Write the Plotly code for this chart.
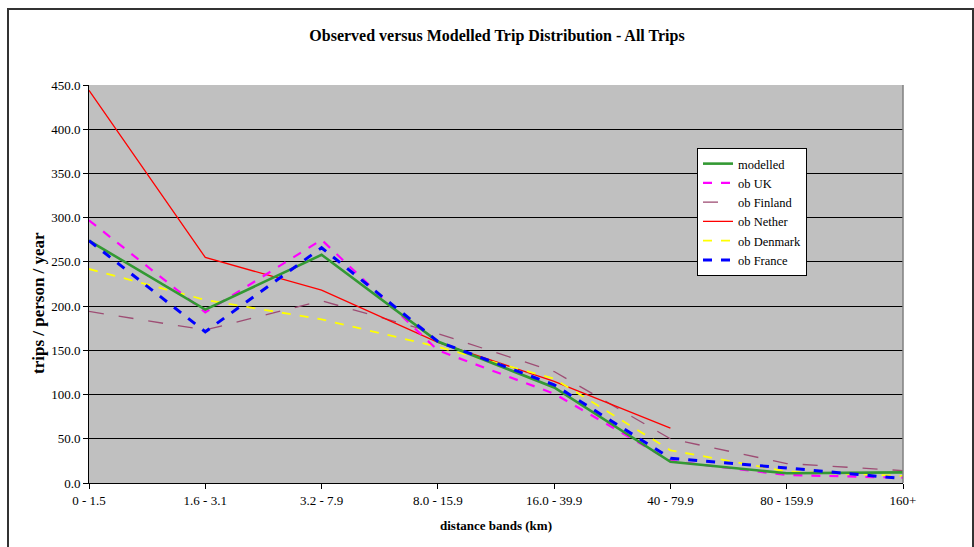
import plotly.graph_objects as go

categories = ["0 - 1.5", "1.6 - 3.1", "3.2 - 7.9", "8.0 - 15.9", "16.0 - 39.9",
              "40 - 79.9", "80 - 159.9", "160+"]
modelled = [274, 196, 258, 160, 108, 24, 11, 12]
ob_uk = [297, 193, 275, 150, 101, 25, 9, 6]
ob_finland = [194, 173, 206, 169, 126, 50, 22, 14]
ob_nether = [444, 255, 218, 159, 115, 62, None, None]
ob_denmark = [242, 207, 185, 154, 118, 37, 13, 8]
ob_france = [274, 171, 266, 160, 111, 28, 17, 5]
y_ticks = [0, 50, 100, 150, 200, 250, 300, 350, 400, 450]

FONT = "Liberation Serif, Times New Roman, serif"

series = [
    # name, data, color, width, dash, legendrank
    ("ob Finland", ob_finland, "#9E4D74", 1.3, "longdash", 3),
    ("ob Nether", ob_nether, "#FF0000", 1.3, "solid", 4),
    ("ob Denmark", ob_denmark, "#FFFF00", 1.8, "dash", 5),
    ("ob UK", ob_uk, "#FF00FF", 2.2, "dash", 2),
    ("modelled", modelled, "#339933", 2.6, "solid", 1),
    ("ob France", ob_france, "#0000FF", 3, "dash", 6),
]

fig = go.Figure()
for name, data, color, width, dash, rank in series:
    fig.add_trace(go.Scatter(
        x=categories, y=data, name=name, mode="lines",
        line=dict(color=color, width=width, dash=dash),
        legendrank=rank, connectgaps=False,
    ))

fig.update_layout(
    width=974, height=547,
    margin=dict(l=89, r=71, t=85, b=64),
    paper_bgcolor="white",
    plot_bgcolor="#C0C0C0",
    font=dict(family=FONT, size=13, color="black"),
    title=dict(text="<b>Observed versus Modelled Trip Distribution - All Trips</b>",
               x=497 / 974, xanchor="center", y=1 - 35 / 547, yanchor="middle",
               font=dict(family=FONT, size=16, color="black")),
    showlegend=True,
    legend=dict(x=(697 - 89) / 814, y=(483 - 148) / 398, xanchor="left", yanchor="top",
                bgcolor="white", bordercolor="black", borderwidth=1,
                font=dict(family=FONT, size=12.5, color="black"),
                tracegroupgap=0),
    xaxis=dict(
        type="category", range=[0, 7],
        showgrid=False, showline=True, linecolor="black", linewidth=1,
        mirror=False, ticks="outside", ticklen=5, tickcolor="black",
        tickfont=dict(family=FONT, size=13, color="black"),
        title=dict(text="<b>distance bands (km)</b>", standoff=14,
                   font=dict(family=FONT, size=13, color="black")),
        zeroline=False,
    ),
    yaxis=dict(
        range=[0, 450], tickvals=y_ticks, tickformat=".1f",
        showgrid=True, gridcolor="black", gridwidth=1,
        showline=True, linecolor="black", linewidth=1,
        ticks="outside", ticklen=5, tickcolor="black",
        tickfont=dict(family=FONT, size=13, color="black"),
        zeroline=False,
    ),
    annotations=[
        dict(text="<b>trips / person / year</b>", textangle=-90, showarrow=False,
             xref="paper", yref="paper", x=(38 - 89) / 814, y=(483 - 303) / 398,
             xanchor="center", yanchor="middle",
             font=dict(family=FONT, size=17, color="black")),
    ],
    shapes=[
        dict(type="rect", xref="paper", yref="paper",
             x0=1, x1=1, y0=0, y1=1, line=dict(color="#808080", width=1)),
        dict(type="rect", xref="paper", yref="paper",
             x0=(8 - 89) / 814, x1=(973 - 89) / 814,
             y0=(483 - 560) / 398, y1=(483 - 9) / 398,
             line=dict(color="#333333", width=2), layer="below"),
    ],
)

fig.write_html("out.html")
